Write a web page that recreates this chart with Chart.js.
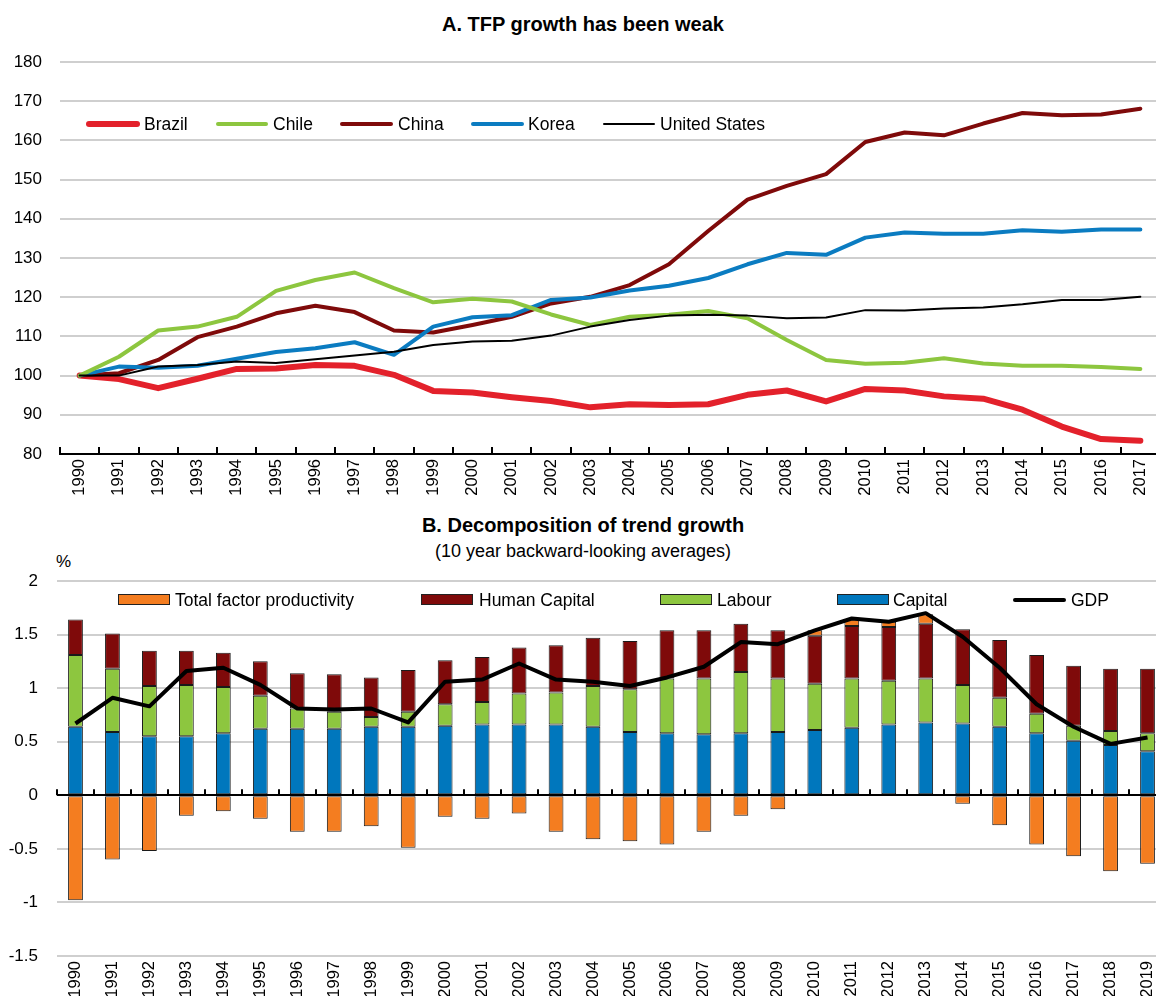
<!DOCTYPE html>
<html>
<head>
<meta charset="utf-8">
<script src="https://cdn.jsdelivr.net/npm/chart.js@4/dist/chart.umd.min.js"></script>
<style>
  html, body { margin: 0; padding: 0; background: #fff; overflow: hidden; }
  body { width: 1156px; height: 996px; position: relative;
         font-family: 'Liberation Sans', Arial, sans-serif; color: #000; }
  .box { position: absolute; }
  .ttl { position: absolute; left: 0; width: 1166px; text-align: center; white-space: nowrap; line-height: 23px; }
  .lg { position: absolute; font-size: 17.5px; line-height: 20px; white-space: nowrap; }
  .ln { position: absolute; border-radius: 3px; }
  .sw { position: absolute; height: 11px; border: 1px solid #222; box-sizing: border-box; }
</style>
</head>
<body>

<div class="ttl" style="top:13px;font-weight:bold;font-size:20px;">A. TFP growth has been weak</div>
<div class="box" style="left:0;top:0;width:1176px;height:505px;"><canvas id="grafico_tfp"></canvas></div>

<div class="ttl" style="top:514px;font-weight:bold;font-size:20px;">B. Decomposition of trend growth</div>
<div class="ttl" style="top:540px;font-size:18px;">(10 year backward-looking averages)</div>
<div class="lg" style="left:56px;top:552px;font-size:17px;">%</div>
<div class="box" style="left:0;top:505px;width:1176px;height:491px;"><canvas id="grafico_tendencia"></canvas></div>

<!-- legenda A -->
<div class="ln" style="left:86px;top:121px;width:54px;height:6px;background:#e3212b;"></div>
<div class="lg" style="left:144px;top:114px;">Brazil</div>
<div class="ln" style="left:216px;top:122px;width:52px;height:4px;background:#8dc63f;"></div>
<div class="lg" style="left:273px;top:114px;">Chile</div>
<div class="ln" style="left:340px;top:122px;width:53px;height:4px;background:#7f0a0a;"></div>
<div class="lg" style="left:398px;top:114px;">China</div>
<div class="ln" style="left:471px;top:122px;width:53px;height:4px;background:#0b7cc1;"></div>
<div class="lg" style="left:528px;top:114px;">Korea</div>
<div class="ln" style="left:603px;top:123px;width:52px;height:2px;background:#000;"></div>
<div class="lg" style="left:660px;top:114px;">United States</div>

<!-- legenda B -->
<div class="sw" style="left:118px;top:594px;width:52px;background:#f47d20;"></div>
<div class="lg" style="left:175px;top:590px;">Total factor productivity</div>
<div class="sw" style="left:421px;top:594px;width:52px;background:#7f0a0a;"></div>
<div class="lg" style="left:479px;top:590px;">Human Capital</div>
<div class="sw" style="left:660px;top:594px;width:52px;background:#8dc63f;"></div>
<div class="lg" style="left:717px;top:590px;">Labour</div>
<div class="sw" style="left:837px;top:594px;width:52px;background:#0077bd;"></div>
<div class="lg" style="left:893px;top:590px;">Capital</div>
<div class="ln" style="left:1013px;top:598px;width:53px;height:4px;background:#000;"></div>
<div class="lg" style="left:1071px;top:590px;">GDP</div>

<script>
const fonte = "'Liberation Sans', Arial, sans-serif";
const cinza = '#cfcfcf';

// A. TFP (1990 = 100)
const anos_tfp = ['1990','1991','1992','1993','1994','1995','1996','1997','1998','1999','2000','2001','2002','2003',
  '2004','2005','2006','2007','2008','2009','2010','2011','2012','2013','2014','2015','2016','2017'];
const brazil = [100, 99.1, 96.8, 99.2, 101.7, 101.8, 102.7, 102.5, 100.2, 96.1, 95.7, 94.5, 93.5, 91.9,
  92.7, 92.5, 92.7, 95.1, 96.2, 93.4, 96.6, 96.2, 94.7, 94.1, 91.3, 87.0, 83.8, 83.4];
const chile = [100, 104.8, 111.5, 112.5, 115.0, 121.6, 124.4, 126.3, 122.3, 118.7, 119.6, 118.9, 115.6, 112.9,
  115.0, 115.5, 116.5, 114.6, 109.1, 104.0, 103.0, 103.3, 104.4, 103.1, 102.5, 102.5, 102.2, 101.7];
const china = [100, 100.6, 104.0, 109.8, 112.5, 115.9, 117.8, 116.2, 111.5, 111.0, 112.9, 115.0, 118.4, 120.1,
  123.1, 128.4, 136.9, 144.9, 148.4, 151.4, 159.6, 162.0, 161.3, 164.3, 167.0, 166.4, 166.6, 168.1];
const korea = [100, 102.3, 102.0, 102.5, 104.3, 106.0, 107.0, 108.5, 105.3, 112.5, 114.9, 115.4, 119.3, 119.9,
  121.7, 122.9, 124.9, 128.4, 131.3, 130.8, 135.2, 136.5, 136.2, 136.2, 137.1, 136.7, 137.3, 137.3];
const estados_unidos = [100, 100.0, 102.3, 102.7, 103.6, 103.2, 104.2, 105.1, 106.1, 107.8, 108.7, 108.9, 110.2, 112.5,
  114.2, 115.3, 115.5, 115.3, 114.6, 114.8, 116.7, 116.6, 117.1, 117.4, 118.2, 119.3, 119.3, 120.1];

// B. decomposição (%)
const anos_dec = ['1990','1991','1992','1993','1994','1995','1996','1997','1998','1999','2000','2001','2002','2003',
  '2004','2005','2006','2007','2008','2009','2010','2011','2012','2013','2014','2015','2016','2017','2018','2019'];
const capital = [0.64, 0.59, 0.55, 0.55, 0.58, 0.62, 0.62, 0.62, 0.64, 0.64, 0.65, 0.66, 0.66, 0.66,
  0.64, 0.59, 0.58, 0.57, 0.58, 0.59, 0.61, 0.63, 0.66, 0.68, 0.67, 0.64, 0.58, 0.51, 0.47, 0.41];
const labour = [0.67, 0.59, 0.47, 0.48, 0.43, 0.31, 0.19, 0.16, 0.09, 0.14, 0.20, 0.21, 0.29, 0.30,
  0.38, 0.40, 0.51, 0.52, 0.57, 0.50, 0.43, 0.46, 0.41, 0.41, 0.36, 0.27, 0.18, 0.14, 0.13, 0.17];
const human_capital = [0.33, 0.33, 0.33, 0.32, 0.32, 0.32, 0.33, 0.35, 0.37, 0.39, 0.41, 0.42, 0.43, 0.44,
  0.45, 0.45, 0.45, 0.45, 0.45, 0.45, 0.45, 0.49, 0.50, 0.51, 0.52, 0.54, 0.55, 0.56, 0.58, 0.60];
const tfp = [-0.98, -0.60, -0.52, -0.19, -0.15, -0.22, -0.34, -0.34, -0.29, -0.49, -0.20, -0.22, -0.17, -0.34,
  -0.41, -0.43, -0.46, -0.34, -0.19, -0.13, 0.05, 0.06, 0.05, 0.09, -0.08, -0.28, -0.46, -0.57, -0.71, -0.64];
const gdp = [0.67, 0.91, 0.83, 1.16, 1.19, 1.03, 0.81, 0.80, 0.81, 0.68, 1.06, 1.08, 1.23, 1.08,
  1.06, 1.02, 1.10, 1.20, 1.43, 1.41, 1.54, 1.65, 1.62, 1.70, 1.48, 1.19, 0.85, 0.64, 0.48, 0.54];

Chart.defaults.font.family = fonte;
Chart.defaults.font.size = 17;
Chart.defaults.color = '#000';
Chart.defaults.animation = false;

// marcas pequenas do eixo, para cima
const marcas = {
  id: 'marcas',
  afterDatasetsDraw(chart, args, opts) {
    const x = chart.scales.x, y = chart.scales.y;
    const passo = x.getPixelForValue(1) - x.getPixelForValue(0);
    const y0 = opts.zero ? y.getPixelForValue(0) : chart.chartArea.bottom;
    const c = chart.ctx;
    c.save();
    c.strokeStyle = '#000';
    c.lineWidth = 2;
    c.beginPath();
    for (let i = 0; i <= chart.data.labels.length; i++) {
      const px = Math.round(x.getPixelForValue(0) - passo / 2 + i * passo);
      c.moveTo(px, y0);
      c.lineTo(px, y0 - opts.tam);
    }
    c.stroke();
    c.restore();
  }
};

function linha(label, data, cor, largura) {
  return { label: label, data: data, borderColor: cor, backgroundColor: cor, borderWidth: largura,
    pointRadius: 0, tension: 0, borderJoinStyle: 'round', borderCapStyle: 'round' };
}

function barra(label, data, cor) {
  return { type: 'bar', label: label, data: data, backgroundColor: cor, borderColor: '#1a1a1a',
    borderWidth: 1, borderSkipped: false, order: 1, barPercentage: 0.4, categoryPercentage: 1.0 };
}

new Chart(document.getElementById('grafico_tfp'), {
  type: 'line',
  data: {
    labels: anos_tfp,
    datasets: [
      linha('United States', estados_unidos, '#000000', 2),
      linha('Chile', chile, '#8dc63f', 4),
      linha('Korea', korea, '#0b7cc1', 4),
      linha('China', china, '#7f0a0a', 4),
      linha('Brazil', brazil, '#e3212b', 6)
    ]
  },
  options: {
    responsive: true,
    maintainAspectRatio: false,
    layout: { padding: { top: 62, right: 16, left: 0, bottom: 0 } },
    scales: {
      x: {
        offset: true,
        grid: { display: false, drawTicks: false },
        border: { display: true, color: '#000', width: 2 },
        ticks: { minRotation: 90, maxRotation: 90, padding: 5, autoSkip: false, font: { size: 16.5 } },
        afterFit: s => { s.height = 51; }
      },
      y: {
        min: 80, max: 180,
        ticks: { stepSize: 10, padding: 18 },
        grid: { drawTicks: false, lineWidth: 2, color: c => c.tick && c.tick.value === 80 ? 'rgba(0,0,0,0)' : cinza },
        border: { display: false },
        afterFit: s => { s.width = 60; }
      }
    },
    plugins: {
      legend: { display: false },
      tooltip: { enabled: false },
      marcas: { tam: 7, zero: false }
    }
  },
  plugins: [marcas]
});

new Chart(document.getElementById('grafico_tendencia'), {
  data: {
    labels: anos_dec,
    datasets: [
      { type: 'line', label: 'GDP', data: gdp, borderColor: '#000', backgroundColor: '#000', borderWidth: 4,
        pointRadius: 0, tension: 0, order: 0, stack: 'gdp', borderJoinStyle: 'round' },
      barra('Capital', capital, '#0077bd'),
      barra('Labour', labour, '#8dc63f'),
      barra('Human Capital', human_capital, '#7f0a0a'),
      barra('Total factor productivity', tfp, '#f47d20')
    ]
  },
  options: {
    responsive: true,
    maintainAspectRatio: false,
    layout: { padding: { top: 76, right: 10, left: 0, bottom: 0 } },
    scales: {
      x: {
        stacked: true,
        offset: true,
        grid: { display: false, drawTicks: false },
        border: { display: false },
        ticks: { minRotation: 90, maxRotation: 90, padding: 5, autoSkip: false, font: { size: 16.5 } },
        afterFit: s => { s.height = 40; }
      },
      y: {
        stacked: true,
        min: -1.5, max: 2,
        ticks: { stepSize: 0.5, padding: 19, callback: v => String(Number(v.toFixed(1))) },
        grid: { drawTicks: false, lineWidth: 2, color: c => c.tick && c.tick.value === 0 ? '#000' : cinza },
        border: { display: false },
        afterFit: s => { s.width = 57; }
      }
    },
    plugins: {
      legend: { display: false },
      tooltip: { enabled: false },
      marcas: { tam: 6, zero: true }
    }
  },
  plugins: [marcas]
});
</script>
</body>
</html>
